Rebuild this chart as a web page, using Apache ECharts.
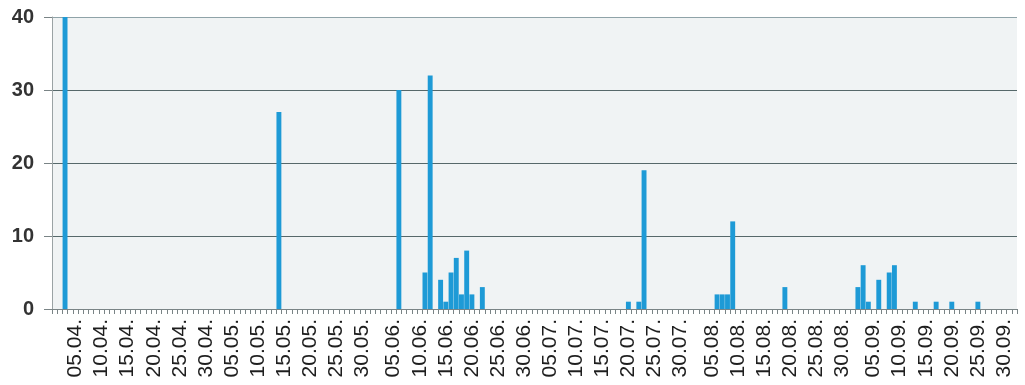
<!DOCTYPE html>
<html>
<head>
<meta charset="utf-8">
<script src="https://cdn.jsdelivr.net/npm/echarts@6/dist/echarts.min.js"></script>
<style>
html,body{margin:0;padding:0;background:#fff;}
#c{width:1025px;height:385px;}
</style>
</head>
<body>
<div id="c"></div>
<script>
// axis range (daily categories)
const startDate = [2024, 4, 1];   // 01.04.
const endDate = [2024, 10, 2];    // 02.10.
const labelDays = [5, 10, 15, 20, 25, 30];
const yTicks = [0, 10, 20, 30, 40];

// event days and their values
const eventDates = ['03.04.', '14.05.', '06.06.', '11.06.', '12.06.', '14.06.', '15.06.', '16.06.',
  '17.06.', '18.06.', '19.06.', '20.06.', '22.06.', '20.07.', '22.07.', '23.07.',
  '06.08.', '07.08.', '08.08.', '09.08.', '19.08.', '02.09.', '03.09.', '04.09.',
  '06.09.', '08.09.', '09.09.', '13.09.', '17.09.', '20.09.', '25.09.'];
const eventValues = [40, 27, 30, 5, 32, 4, 1, 5,
  7, 2, 8, 2, 3, 1, 1, 19,
  2, 2, 2, 12, 3, 3, 6, 1,
  4, 5, 6, 1, 1, 1, 1];

function pad(n){ return (n < 10 ? '0' : '') + n; }
const categories = [];
{
  const d = new Date(Date.UTC(startDate[0], startDate[1]-1, startDate[2]));
  const e = new Date(Date.UTC(endDate[0], endDate[1]-1, endDate[2]));
  while (d <= e) {
    categories.push(pad(d.getUTCDate()) + '.' + pad(d.getUTCMonth()+1) + '.');
    d.setUTCDate(d.getUTCDate()+1);
  }
}
const lookup = {};
eventDates.forEach((k, i) => { lookup[k] = eventValues[i]; });
const seriesData = categories.map(c => (c in lookup ? lookup[c] : 0));

const chart = echarts.init(document.getElementById('c'), null, {renderer: 'canvas'});
chart.setOption({
  animation: false,
  backgroundColor: '#ffffff',
  grid: {
    left: 52, right: 8, top: 17, bottom: 76,
    show: true, backgroundColor: '#f0f3f4', borderWidth: 0,
    outerBoundsMode: 'none'
  },
  xAxis: {
    type: 'category',
    data: categories,
    boundaryGap: true,
    axisLine: { show: true, lineStyle: { color: '#7a8486', width: 1 } },
    axisTick: { show: true, interval: 0, length: 5, lineStyle: { color: '#7a8486' } },
    axisLabel: {
      interval: (idx, val) => labelDays.indexOf(parseInt(val.slice(0, 2), 10)) >= 0,
      rotate: 90,
      margin: 10,
      fontFamily: 'Liberation Sans, Arial, sans-serif',
      fontSize: 21,
      color: '#1e1e1e'
    },
    splitLine: { show: false }
  },
  yAxis: {
    type: 'value',
    min: yTicks[0], max: yTicks[yTicks.length-1], interval: 10,
    axisLine: { show: true, lineStyle: { color: '#9aa2a4', width: 1 } },
    axisTick: { show: true, inside: false, length: 8, lineStyle: { color: '#7a8486' } },
    axisLabel: {
      margin: 18,
      fontFamily: 'Liberation Sans, Arial, sans-serif',
      fontSize: 20,
      fontWeight: 'bold',
      color: '#333333'
    },
    splitLine: {
      show: true,
      lineStyle: { color: ['#7a8486', '#56686a', '#56686a', '#56686a', '#8fa3a8'], width: 1.2 }
    }
  },
  series: [{
    type: 'bar',
    data: seriesData,
    barCategoryGap: '6%',
    itemStyle: { color: '#1e9ad6' }
  }]
});
</script>
</body>
</html>
